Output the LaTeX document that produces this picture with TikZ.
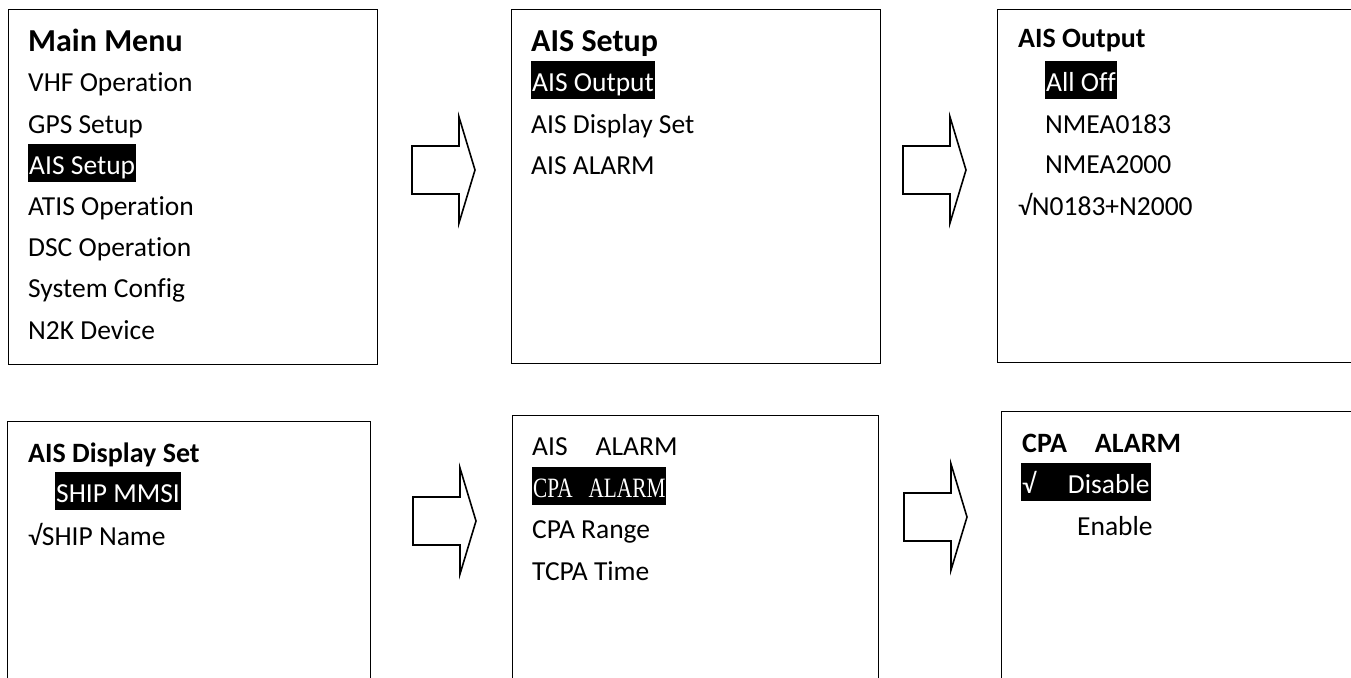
\documentclass[tikz,border=0pt]{standalone}
\usepackage{fontspec}
\setmainfont{Carlito}[Ligatures={NoCommon}]
\newfontfamily\menuserif{Liberation Serif}
\usepackage{tikz}
\usetikzlibrary{positioning}

\begin{document}
\begin{tikzpicture}[
    x=1pt, y=-1pt,
    menubox/.style={rectangle, draw=black, line width=0.9pt, fill=white, anchor=north west, inner sep=0pt},
    item/.style={anchor=base west, inner sep=0pt, font=\fontsize{27.5}{32}\selectfont},
    title/.style={item, font=\fontsize{28}{33}\selectfont\bfseries},
    bigtitle/.style={item, font=\fontsize{32}{36}\selectfont\bfseries},
    sel/.style={item, fill=black, text=white, inner xsep=1pt, text height=30pt, text depth=8pt},
    pics/menuarrow/.style={code={
        \draw[line width=1.6pt, line join=miter] (0,-24) -- (47,-24) -- (47,-53) -- (63,0)
            -- (47,53) -- (47,24) -- (0,24) -- cycle;
    }}
]
\clip (0,0) rectangle (1351,677);

% Top row: Main Menu, AIS Setup, AIS Output
\node[menubox, minimum width=369pt, minimum height=355pt] (mainMenu) at (8,9) {};
\node[menubox, minimum width=369pt, minimum height=354pt] (aisSetup) at (511,9) {};
\node[menubox, minimum width=390pt, minimum height=353pt] (aisOutput) at (997,9) {};

% Bottom row: AIS Display Set, AIS ALARM, CPA ALARM (run past the page edge)
\node[menubox, minimum width=363pt, minimum height=300pt] (aisDisplay) at (7,421) {};
\node[menubox, minimum width=366pt, minimum height=300pt] (aisAlarm) at (512,415) {};
\node[menubox, minimum width=390pt, minimum height=300pt] (cpaAlarm) at (1001,411) {};

% Main Menu entries
\node[bigtitle] (mmTitle) at (28,52) {Main Menu};
\node[item] (mmVhf) at (28,92) {VHF Operation};
\node[item] (mmGps) at (28,133) {GPS Setup};
\node[sel] (mmAis) at (28,174) {AIS Setup};
\node[item] (mmAtis) at (28,215) {ATIS Operation};
\node[item] (mmDsc) at (28,256) {DSC Operation};
\node[item] (mmSys) at (28,297) {System Config};
\node[item] (mmN2k) at (28,339) {N2K Device};

% AIS Setup entries
\node[bigtitle] (asTitle) at (531,52) {AIS Setup};
\node[sel] (asOutput) at (531,91) {AIS Output};
\node[item] (asDisplay) at (531,133) {AIS Display Set};
\node[item] (asAlarm) at (531,174) {AIS ALARM};

% AIS Output entries
\node[title] (aoTitle) at (1018,48) {AIS Output};
\node[sel] (aoOff) at (1045,91) {All Off};
\node[item] (aoN0183) at (1045,133) {NMEA0183};
\node[item] (aoN2000) at (1045,173) {NMEA2000};
\node[item] (aoBoth) at (1018,215) {√N0183+N2000};

% AIS Display Set entries
\node[title] (adTitle) at (28,462) {AIS Display Set};
\node[sel] (adMmsi) at (55,502) {SHIP MMSI};
\node[item] (adName) at (28,545) {√SHIP Name};

% AIS ALARM entries
\node[item] (aaTitle) at (532,455) {AIS\hspace*{28pt}ALARM};
\node[sel] (aaCpa) at (532,497) {\scalebox{0.76}[1]{\menuserif\fontsize{28}{33}\selectfont CPA\hspace*{21pt}ALARM}};
\node[item] (aaRange) at (532,538) {CPA Range};
\node[item] (aaTcpa) at (532,580) {TCPA Time};

% CPA ALARM entries
\node[title] (caTitle) at (1022,452) {CPA\hspace*{28pt}ALARM};
\node[sel] (caDisable) at (1021,493) {√\hspace*{32pt}Disable};
\node[item] (caEnable) at (1077,535) {Enable};

% Block arrows between the screens
\pic at (412,170) {menuarrow};
\pic at (903,170) {menuarrow};
\pic at (413,521) {menuarrow};
\pic at (904,517) {menuarrow};
\end{tikzpicture}
\end{document}
